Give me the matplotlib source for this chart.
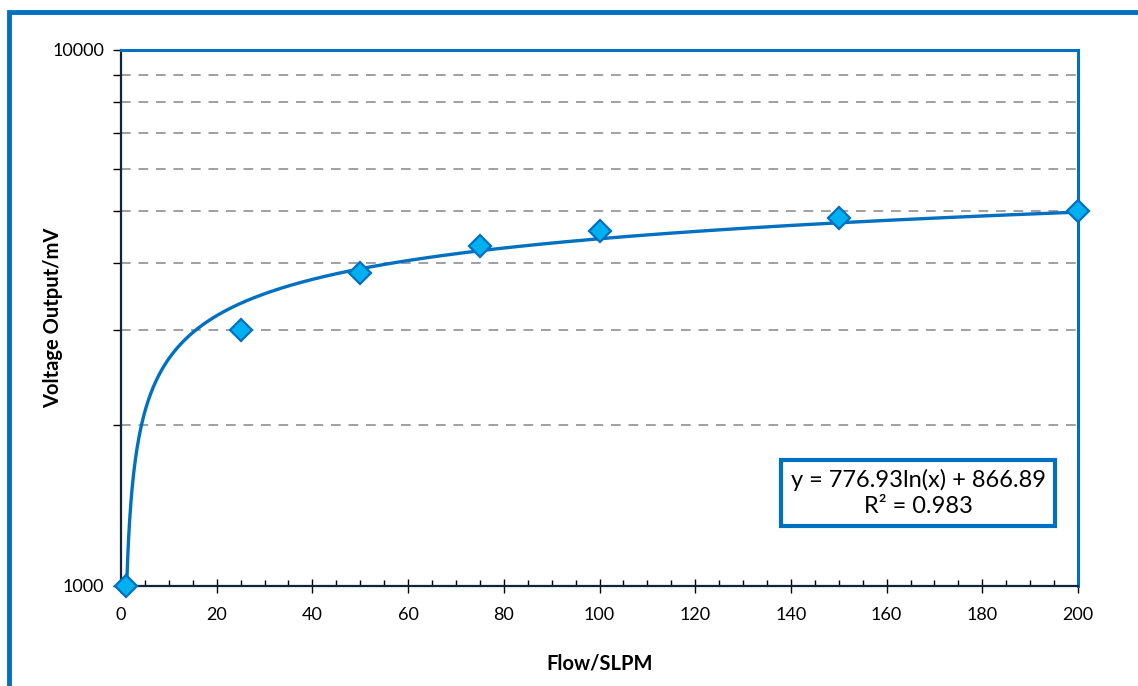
import numpy as np
import matplotlib.pyplot as plt
from matplotlib.patches import Rectangle
from matplotlib.ticker import FixedLocator, MultipleLocator, NullFormatter

plt.rcParams['font.family'] = ['Lato', 'DejaVu Sans']

# Measured points
flow = [1, 25, 50, 75, 100, 150, 200]           # SLPM
voltage = [1000, 3000, 3840, 4300, 4600, 4860, 5000]  # mV

# Logarithmic trendline coefficients
slope = 776.93
intercept = 866.89
r2 = 0.983

blue = '#0070C0'
light_blue = '#00B0F0'

fig = plt.figure(figsize=(11.38, 6.86), dpi=100)
ax = fig.add_axes([121 / 1138, 1 - 586 / 686, (1078 - 121) / 1138, (586 - 50) / 686])

# outer chart border
fig.patches.append(Rectangle((9 / 1138, -0.1), 1.2, 1 - 12 / 686 + 0.1,
                             transform=fig.transFigure, fill=False,
                             edgecolor=blue, linewidth=3.5, clip_on=False))

xs = np.linspace(1, 200, 2000)
ax.plot(xs, slope * np.log(xs) + intercept, color=blue, lw=2.4, zorder=3)
ax.plot(flow, voltage, linestyle='none', marker='D', ms=11,
        mfc=light_blue, mec=blue, mew=1.6, zorder=4, clip_on=False)

ax.set_yscale('log')
ax.set_xlim(0, 200)
ax.set_ylim(1000, 10000)

grid_levels = [2000, 3000, 4000, 5000, 6000, 7000, 8000, 9000]
for g in grid_levels:
    ax.axhline(g, color='#A0A0A0', lw=1.4, ls=(0, (5, 4)), zorder=1)

ax.yaxis.set_major_locator(FixedLocator([1000, 10000]))
ax.yaxis.set_minor_locator(FixedLocator(grid_levels))
ax.yaxis.set_minor_formatter(NullFormatter())
ax.set_yticklabels(['1000', '10000'])
ax.tick_params(axis='y', which='both', direction='out', length=6, width=1,
               labelsize=13, pad=6)

ax.xaxis.set_major_locator(MultipleLocator(20))
ax.xaxis.set_minor_locator(MultipleLocator(5))
ax.tick_params(axis='x', which='major', direction='inout', length=10, width=1,
               labelsize=13, pad=10)
ax.tick_params(axis='x', which='minor', direction='in', length=4, width=1)

for side in ['top', 'right']:
    ax.spines[side].set_color(blue)
    ax.spines[side].set_linewidth(2.2)
for side in ['left', 'bottom']:
    ax.spines[side].set_color('#10243E')
    ax.spines[side].set_linewidth(1.6)

ax.set_xlabel('Flow/SLPM', fontsize=14.5, fontweight='bold', labelpad=22)
ax.set_ylabel('Voltage Output/mV', fontsize=14.5, fontweight='bold')
ax.yaxis.set_label_coords(-0.06, 0.5)

ax.text(0.833, 0.1735, f'y = {slope}ln(x) + {intercept}\nR² = {r2}',
        transform=ax.transAxes, ha='center', va='center', fontsize=17,
        linespacing=1.25, zorder=5,
        bbox=dict(boxstyle='square,pad=0.4', fc='white', ec=blue, lw=3))

fig.savefig('out.png', dpi=100)
